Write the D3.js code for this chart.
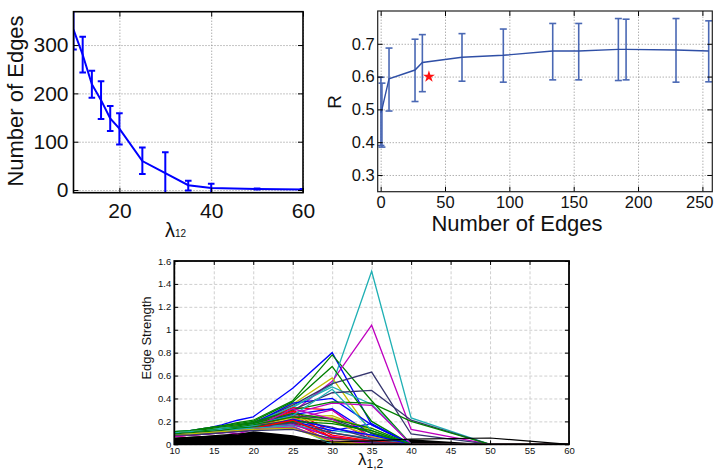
<!DOCTYPE html>
<html>
<head>
<meta charset="utf-8">
<script src="https://cdn.jsdelivr.net/npm/d3@7"></script>
<style>
	body { margin: 0; background: #fff; }
	svg { display: block; font-family: 'Liberation Sans', Arial, sans-serif; }
</style>
</head>
<body>
<svg id="fig" width="714" height="470"></svg>
<script>
// ---- top left: number of edges vs lambda
const lambdaTop = [10, 12, 14, 16, 18, 20, 25, 30, 35, 40, 50, 60];
const edgeMean = [332, 280, 219, 186, 148, 127, 60, 35, 10, 4, 2, 1];
const edgeLow = [291, 243, 191, 147, 122, 94, 33, -7, -1, -6, 1, 0];
const edgeHigh = [373, 317, 247, 225, 174, 159, 88, 78, 19, 13, 3, 2];
const edgeXTicks = [20, 40, 60];
const edgeYTicks = [0, 100, 200, 300];

// ---- top right: R vs number of edges
const edgeCount = [0.2, 1, 6.5, 26.7, 32.4, 63.2, 95.3, 133.7, 153.9, 184.7, 190.7, 229.5, 254.9];
const rMean = [0.49, 0.50, 0.593, 0.62, 0.643, 0.659, 0.665, 0.678, 0.678, 0.683, 0.683, 0.681, 0.678];
const rLow = [0.39, 0.385, 0.495, 0.524, 0.554, 0.586, 0.583, 0.59, 0.59, 0.588, 0.59, 0.583, 0.584];
const rHigh = [0.598, 0.58, 0.687, 0.714, 0.728, 0.731, 0.745, 0.762, 0.762, 0.777, 0.775, 0.777, 0.77];
const bestPoint = [37.5, 0.6];
const rXTicks = [0, 50, 100, 150, 200, 250];
const rYTicks = [0.3, 0.4, 0.5, 0.6, 0.7];

// ---- bottom: edge strength paths
const lambdaBottom = [10, 12, 14, 16, 18, 20, 25, 30, 35, 40, 50, 60];
const strengthXTicks = [10, 15, 20, 25, 30, 35, 40, 45, 50, 55, 60];
const strengthYTicks = [0, 0.2, 0.4, 0.6, 0.8, 1, 1.2, 1.4, 1.6];
// dense bundle of weak edges, drawn as solid black
const denseTop = [0.06, 0.065, 0.072, 0.08, 0.09, 0.115, 0.08, 0.01, 0.025, 0.045, 0, 0];
const blackEdge = [0.05, 0.06, 0.07, 0.08, 0.09, 0.1, 0.06, 0.02, 0.03, 0.045, 0.055, 0];
const edgePaths = [
	[0.10, 0.12, 0.14, 0.17, 0.21, 0.24, 0.49, 0.80, 0.17, 0, 0, 0],
	[0.11, 0.12, 0.14, 0.16, 0.19, 0.21, 0.38, 0.78, 0.38, 0, 0, 0],
	[0.09, 0.10, 0.12, 0.14, 0.16, 0.18, 0.30, 0.10, 0.05, 0, 0, 0],
	[0.11, 0.12, 0.13, 0.15, 0.17, 0.19, 0.32, 0.52, 1.51, 0.23, 0, 0],
	[0.08, 0.09, 0.11, 0.12, 0.14, 0.15, 0.28, 0.55, 1.04, 0.13, 0, 0],
	[0.10, 0.11, 0.12, 0.14, 0.16, 0.18, 0.35, 0.58, 0.10, 0, 0, 0],
	[0.10, 0.11, 0.13, 0.15, 0.17, 0.19, 0.34, 0.53, 0.63, 0.09, 0, 0],

	[0.09, 0.10, 0.12, 0.14, 0.16, 0.18, 0.36, 0.40, 0.17, 0, 0, 0],
	[0.11, 0.12, 0.14, 0.16, 0.18, 0.20, 0.37, 0.68, 0.20, 0, 0, 0],
	[0.08, 0.09, 0.11, 0.13, 0.15, 0.17, 0.32, 0.30, 0.05, 0, 0, 0],
	[0.10, 0.11, 0.12, 0.14, 0.16, 0.18, 0.33, 0.50, 0.35, 0, 0, 0],
	[0.08, 0.09, 0.10, 0.12, 0.13, 0.15, 0.27, 0.36, 0.34, 0, 0, 0],
	[0.09, 0.10, 0.12, 0.13, 0.15, 0.17, 0.24, 0.25, 0.12, 0, 0, 0],
	[0.10, 0.11, 0.12, 0.14, 0.16, 0.18, 0.30, 0.45, 0.47, 0.21, 0, 0],

	[0.09, 0.10, 0.11, 0.13, 0.15, 0.17, 0.26, 0.31, 0.09, 0, 0, 0],
	[0.10, 0.11, 0.13, 0.15, 0.17, 0.19, 0.30, 0.37, 0.36, 0.20, 0, 0],
	[0.07, 0.08, 0.10, 0.12, 0.14, 0.16, 0.29, 0.05, 0.02, 0, 0, 0],
	[0.09, 0.10, 0.12, 0.13, 0.15, 0.17, 0.20, 0.12, 0.08, 0, 0, 0],
	[0.07, 0.08, 0.09, 0.11, 0.09, 0.13, 0.22, 0.30, 0.06, 0, 0, 0],
	[0.10, 0.11, 0.12, 0.14, 0.16, 0.17, 0.23, 0.23, 0.14, 0, 0, 0],
	[0.09, 0.10, 0.11, 0.13, 0.15, 0.16, 0.25, 0.22, 0.10, 0, 0, 0],

	[0.08, 0.09, 0.11, 0.12, 0.14, 0.15, 0.20, 0.12, 0.18, 0, 0, 0],
	[0.10, 0.11, 0.12, 0.14, 0.16, 0.18, 0.27, 0.22, 0.14, 0, 0, 0],
	[0.08, 0.09, 0.10, 0.12, 0.13, 0.15, 0.25, 0.08, 0.03, 0, 0, 0],
	[0.10, 0.11, 0.12, 0.14, 0.15, 0.17, 0.25, 0.48, 0.12, 0, 0, 0],
	[0.08, 0.09, 0.10, 0.11, 0.13, 0.14, 0.31, 0.22, 0.04, 0, 0, 0],
	[0.09, 0.10, 0.11, 0.12, 0.14, 0.16, 0.22, 0.20, 0.07, 0, 0, 0],
	[0.09, 0.10, 0.11, 0.13, 0.14, 0.16, 0.21, 0.15, 0.05, 0, 0, 0],

	[0.08, 0.09, 0.10, 0.12, 0.13, 0.14, 0.18, 0.06, 0.02, 0, 0, 0],
	[0.09, 0.10, 0.12, 0.13, 0.15, 0.17, 0.24, 0.20, 0.10, 0, 0, 0],
	[0.07, 0.08, 0.09, 0.11, 0.12, 0.14, 0.19, 0.02, 0, 0, 0, 0],
	[0.09, 0.10, 0.11, 0.13, 0.14, 0.16, 0.17, 0.10, 0.05, 0, 0, 0],
	[0.07, 0.08, 0.09, 0.10, 0.12, 0.13, 0.17, 0.07, 0.02, 0, 0, 0],
	[0.08, 0.09, 0.10, 0.11, 0.13, 0.14, 0.15, 0.04, 0.03, 0, 0, 0],
	[0.08, 0.09, 0.10, 0.12, 0.13, 0.15, 0.19, 0.10, 0.04, 0, 0, 0],

	[0.08, 0.09, 0.10, 0.11, 0.12, 0.13, 0.22, 0.14, 0.08, 0, 0, 0],
	[0.09, 0.10, 0.11, 0.12, 0.14, 0.15, 0.20, 0.18, 0.12, 0, 0, 0],
	[0.08, 0.09, 0.10, 0.11, 0.12, 0.14, 0.21, 0.06, 0.03, 0, 0, 0],
	[0.08, 0.09, 0.10, 0.11, 0.13, 0.14, 0.16, 0.00, 0, 0, 0, 0],
	[0.07, 0.08, 0.09, 0.10, 0.11, 0.13, 0.15, 0.03, 0.01, 0, 0, 0],
	[0.08, 0.09, 0.10, 0.11, 0.12, 0.13, 0.14, 0.02, 0, 0, 0, 0],
	[0.08, 0.08, 0.09, 0.10, 0.11, 0.12, 0.13, 0.05, 0.02, 0, 0, 0]
];

// matlab-ish colour order
const colorOrder = ['#0000ff', '#008000', '#ff0000', '#1fb0b4', '#bf00bf', '#bfbf00', '#35356e'];

const svg = d3.select('#fig');

// background grid only
const drawFrame = (g, x, y, xTicks, yTicks, opt) => {
	const [x0, x1] = x.range();
	const [y0, y1] = y.range();

	const grid = g.append('g').attr('class', 'grid');

	grid.append('g')
		.attr('transform', `translate(0,${y0})`)
		.call(d3.axisBottom(x).tickValues(xTicks).tickSize(-(y0 - y1)).tickFormat(''));

	grid.append('g')
		.attr('transform', `translate(${x0},0)`)
		.call(d3.axisLeft(y).tickValues(yTicks).tickSize(-(x1 - x0)).tickFormat(''));

	grid.selectAll('.domain').remove();
	grid.selectAll('line')
		.style('stroke', opt.grid)
		.style('stroke-dasharray', opt.dash);
};

// inward ticks on all four sides + box
const drawAxes = (g, x, y, xTicks, yTicks, opt) => {
	const [x0, x1] = x.range();
	const [y0, y1] = y.range();
	const t = opt.tick;
	const axes = g.append('g').attr('class', 'axes');

	const bottom = axes.append('g')
		.attr('transform', `translate(0,${y0})`)
		.call(d3.axisBottom(x).tickValues(xTicks).tickSize(-t).tickPadding(opt.padX).tickFormat(opt.fmtX || d3.format('')));
	const left = axes.append('g')
		.attr('transform', `translate(${x0},0)`)
		.call(d3.axisLeft(y).tickValues(yTicks).tickSize(-t).tickPadding(opt.padY).tickFormat(opt.fmtY || d3.format('')));
	axes.append('g')
		.attr('transform', `translate(0,${y1})`)
		.call(d3.axisTop(x).tickValues(xTicks).tickSize(-t).tickFormat(''));
	axes.append('g')
		.attr('transform', `translate(${x1},0)`)
		.call(d3.axisRight(y).tickValues(yTicks).tickSize(-t).tickFormat(''));

	axes.selectAll('.domain').remove();
	axes.selectAll('.tick line').style('stroke', '#000');
	[bottom, left].forEach(a => a
		.attr('font-family', null)
		.attr('font-size', opt.font)
		.selectAll('text').style('fill', '#111'));

	axes.append('rect')
		.attr('x', x0)
		.attr('y', y1)
		.attr('width', x1 - x0)
		.attr('height', y0 - y1)
		.style('fill', 'none')
		.style('stroke', opt.boxColor || '#000')
		.style('stroke-width', opt.box);

	return bottom;
};

const errorBars = (g, x, y, xs, lo, hi, cap, color, width) => {
	const bars = g.append('g').selectAll('g')
		.data(xs)
		.join('g')
		.style('stroke', color)
		.style('stroke-width', width);
	bars.append('line')
		.attr('x1', d => x(d)).attr('x2', d => x(d))
		.attr('y1', (d, i) => y(lo[i])).attr('y2', (d, i) => y(hi[i]));
	bars.append('line')
		.attr('x1', d => x(d) - cap).attr('x2', d => x(d) + cap)
		.attr('y1', (d, i) => y(lo[i])).attr('y2', (d, i) => y(lo[i]));
	bars.append('line')
		.attr('x1', d => x(d) - cap).attr('x2', d => x(d) + cap)
		.attr('y1', (d, i) => y(hi[i])).attr('y2', (d, i) => y(hi[i]));
};

// ================= panel 1
const x1s = d3.scaleLinear().domain([10, 60]).range([73.5, 303]);
const y1s = d3.scaleLinear().domain([-5.5, 369]).range([192.7, 11.7]);
const p1 = svg.append('g');

svg.append('clipPath').attr('id', 'clip1')
	.append('rect').attr('x', 73.5).attr('y', 11.7).attr('width', 229.5).attr('height', 181);

drawFrame(p1, x1s, y1s, edgeXTicks, edgeYTicks, {grid: '#8c8c8c', dash: '1,2'});

const plot1 = p1.append('g').attr('clip-path', 'url(#clip1)');
errorBars(plot1, x1s, y1s, lambdaTop, edgeLow, edgeHigh, 3.3, '#0000ff', 2);
plot1.append('path')
	.datum(edgeMean)
	.attr('d', d3.line().x((d, i) => x1s(lambdaTop[i])).y(d => y1s(d)))
	.style('fill', 'none')
	.style('stroke', '#0000ff')
	.style('stroke-width', 2);

drawAxes(p1, x1s, y1s, edgeXTicks, edgeYTicks, {tick: 5, padX: 10, padY: 5, font: 21, box: 1.6});

p1.append('text')
	.attr('transform', 'translate(23,101) rotate(-90)')
	.attr('text-anchor', 'middle')
	.style('font-size', '22px')
	.style('fill', '#111')
	.text('Number of Edges');

const lab1 = p1.append('text')
	.attr('x', 165)
	.attr('y', 237)
	.style('fill', '#111');
lab1.append('tspan').style('font-size', '20px').text('λ');
lab1.append('tspan').style('font-size', '10px').text('12');

// ================= panel 2
const x2s = d3.scaleLinear().domain([-2.3, 257.7]).range([377.7, 712.3]);
const y2s = d3.scaleLinear().domain([0.249, 0.8]).range([191.7, 11]);
const p2 = svg.append('g');

drawFrame(p2, x2s, y2s, rXTicks, rYTicks, {grid: '#8c8c8c', dash: '1,2'});
errorBars(p2, x2s, y2s, edgeCount, rLow, rHigh, 3.5, '#4a68b4', 1.6);
p2.append('path')
	.datum(rMean)
	.attr('d', d3.line().x((d, i) => x2s(edgeCount[i])).y(d => y2s(d)))
	.style('fill', 'none')
	.style('stroke', '#2f4fa6')
	.style('stroke-width', 1.4);

p2.append('path')
	.attr('d', d3.symbol(d3.symbolStar, 45)())
	.attr('transform', `translate(${x2s(bestPoint[0])},${y2s(bestPoint[1])})`)
	.style('fill', '#ff1010');

const bottom2 = drawAxes(p2, x2s, y2s, rXTicks, rYTicks, {tick: 5, padX: 5, padY: 3, font: 16.5, box: 1.2, boxColor: '#222', fmtY: d3.format('.1f')});
// last label is pulled inside the figure, like the original
bottom2.selectAll('.tick text')
	.filter(d => d === 250)
	.attr('text-anchor', 'end')
	.attr('x', 713 - x2s(250));

p2.append('text')
	.attr('transform', 'translate(341,102) rotate(-90)')
	.attr('text-anchor', 'middle')
	.style('font-size', '19px')
	.style('fill', '#111')
	.text('R');

p2.append('text')
	.attr('x', 517)
	.attr('y', 231)
	.attr('text-anchor', 'middle')
	.style('font-size', '22px')
	.style('fill', '#111')
	.text('Number of Edges');

// ================= panel 3
const x3s = d3.scaleLinear().domain([10, 60]).range([174.3, 569]);
const y3s = d3.scaleLinear().domain([0, 1.6]).range([444.3, 261]);
const p3 = svg.append('g');

drawFrame(p3, x3s, y3s, strengthXTicks, strengthYTicks, {grid: '#cfcfcf', dash: '3,2'});

const line3 = d3.line().x((d, i) => x3s(lambdaBottom[i])).y(d => y3s(d));

p3.append('path')
	.datum(denseTop)
	.attr('d', d3.area().x((d, i) => x3s(lambdaBottom[i])).y0(y3s(0)).y1(d => y3s(d)))
	.style('fill', '#000');

p3.append('g').selectAll('path')
	.data(edgePaths)
	.join('path')
	.attr('d', line3)
	.style('fill', 'none')
	.style('stroke', (d, i) => colorOrder[i % colorOrder.length])
	.style('stroke-width', 1.3);

p3.append('path')
	.datum(blackEdge)
	.attr('d', line3)
	.style('fill', 'none')
	.style('stroke', '#000')
	.style('stroke-width', 1.2);

drawAxes(p3, x3s, y3s, strengthXTicks, strengthYTicks, {tick: 4, padX: 2.5, padY: 3, font: 9.5, box: 1.8});

p3.append('text')
	.attr('transform', 'translate(151,338) rotate(-90)')
	.attr('text-anchor', 'middle')
	.style('font-size', '13px')
	.style('fill', '#111')
	.text('Edge Strength');

const lab3 = p3.append('text')
	.attr('x', 358)
	.attr('y', 465)
	.style('fill', '#111');
lab3.append('tspan').style('font-size', '17px').text('λ');
lab3.append('tspan').attr('dy', 3).style('font-size', '12px').text('1,2');
</script>
</body>
</html>
